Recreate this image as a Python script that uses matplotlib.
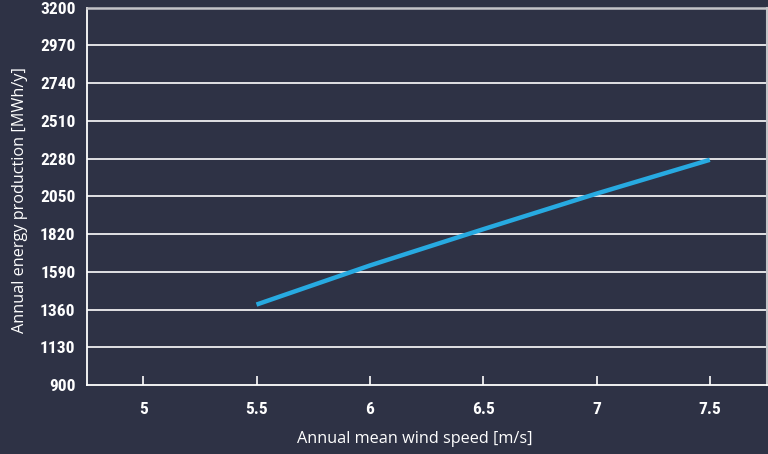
import matplotlib
matplotlib.use("Agg")
import matplotlib.pyplot as plt
from matplotlib import font_manager
from matplotlib.font_manager import FontProperties

wind_speed = [5.5, 6.0, 6.5, 7.0, 7.5]
energy = [1390, 1628, 1849, 2066, 2272]
x_ticks = [5, 5.5, 6, 6.5, 7, 7.5]
x_tick_labels = ["5", "5.5", "6", "6.5", "7", "7.5"]
y_ticks = [900, 1130, 1360, 1590, 1820, 2050, 2280, 2510, 2740, 2970, 3200]
y_tick_labels = [str(v) for v in y_ticks]
x_label = "Annual mean wind speed [m/s]"
y_label = "Annual energy production [MWh/y]"

# choose a narrow bold face if one is installed, else Roboto bold
tick_fp = None
for pref in ["Liberation Sans Narrow", "Roboto Condensed", "Open Sans Condensed", "Noto Sans Condensed"]:
    for f in font_manager.fontManager.ttflist:
        if f.name == pref and f.weight in ("bold", 700) and f.style == "normal":
            tick_fp = FontProperties(fname=f.fname, size=12.5)
            break
    if tick_fp is not None:
        break
if tick_fp is None:
    tick_fp = FontProperties(family="Roboto", weight="bold", size=12.3)

label_font = "Open Sans"

bg = "#2e3245"
fig = plt.figure(figsize=(7.68, 4.54), dpi=100, facecolor=bg)
ax = fig.add_axes([86.5 / 768, 1 - 385 / 454, (766.5 - 86.5) / 768, (385 - 7.5) / 454])
ax.set_facecolor(bg)

ax.set_xlim(4.75, 7.75)
ax.set_ylim(900, 3200)

for y in y_ticks[1:-1]:
    ax.axhline(y, color="white", lw=1.2, zorder=1)

ax.plot(wind_speed, energy, color="#27aae1", lw=3.2, solid_capstyle="butt", zorder=3)

ax.set_xticks(x_ticks)
ax.set_xticklabels(x_tick_labels)
ax.set_yticks(y_ticks)
ax.set_yticklabels(y_tick_labels)
for lab in ax.get_xticklabels() + ax.get_yticklabels():
    lab.set_fontproperties(tick_fp)
    lab.set_color("white")

ax.tick_params(axis="x", direction="in", length=6.5, width=1.2, color="white", pad=12)
ax.tick_params(axis="y", length=0, pad=8)

ax.spines["left"].set_color("white")
ax.spines["left"].set_linewidth(1.3)
ax.spines["bottom"].set_color("white")
ax.spines["bottom"].set_linewidth(1.3)
ax.spines["top"].set_color("#c4c4c8")
ax.spines["top"].set_linewidth(1.8)
ax.spines["right"].set_color("#c4c4c8")
ax.spines["right"].set_linewidth(1.5)

fig.text(415 / 768, 1 - 439 / 454, x_label, ha="center", va="center",
         color="white", fontsize=11.7, family=label_font)
fig.text(20 / 768, 1 - 200 / 454, y_label, ha="center", va="center", rotation=90,
         color="white", fontsize=11.7, family=label_font)

fig.savefig("out.png", dpi=100, facecolor=bg)
